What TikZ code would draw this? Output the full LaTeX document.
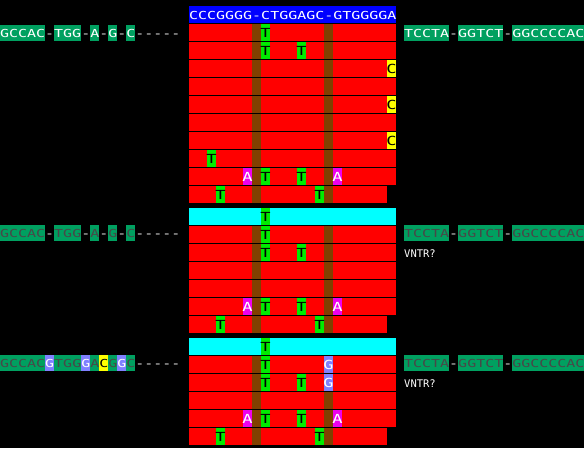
\documentclass[tikz,border=0pt]{standalone}
\usepackage{fontspec}
\newfontfamily\pix[FakeStretch=1.36]{DejaVu Sans Mono}
\newfontfamily\pixn{DejaVu Sans Mono}
\definecolor{bggreen}{RGB}{0,160,96}
\definecolor{tgreen}{RGB}{0,235,0}
\definecolor{brn}{RGB}{128,64,0}
\definecolor{mag}{RGB}{238,0,238}
\definecolor{gviolet}{RGB}{128,128,255}
\definecolor{dgray}{RGB}{72,72,72}
\definecolor{hblue}{RGB}{0,0,255}
\definecolor{cy}{RGB}{0,255,255}
\definecolor{yel}{RGB}{255,255,0}
\definecolor{rd}{RGB}{255,0,0}
\tikzset{
  seqtxt/.style={inner sep=0pt, anchor=base west, font=\pix\fontsize{11}{11}\selectfont},
  celltxt/.style={inner sep=0pt, anchor=base, font=\pix\fontsize{12.5}{12.5}\selectfont},
  notetxt/.style={inner sep=0pt, anchor=base west, text=white, font=\pixn\fontsize{10.5}{10.5}\selectfont},
}
% red read row: y, number of columns
\newcommand\redrow[2]{%
  \fill[rd] (189,#1) rectangle ++({9*#2},17);
  \fill[brn] (252,#1) rectangle ++(9,17);
  \fill[brn] (324,#1) rectangle ++(9,17);}
% base cell: col, y, fill, text colour, letter
\newcommand\base[5]{%
  \fill[#3] ({189+9*#1},#2) rectangle ++(9,17);
  \node[celltxt,text=#4] (b-#1-#2) at ({193.5+9*#1},{#2+13}) {#5};}
\newcommand\Tb[2]{\base{#1}{#2}{tgreen}{black}{T}}
\newcommand\Ab[2]{\base{#1}{#2}{mag}{white}{A}}
\newcommand\Cb[2]{\base{#1}{#2}{yel}{black}{C}}
\newcommand\Gb[2]{\base{#1}{#2}{gviolet}{white}{G}}
% green box behind sequence: x0, first col, last col, y
\newcommand\gbox[5][bggreen]{%
  \fill[#1] ({#2+9*#3},#5) rectangle ({#2+9*#4+9},{#5+16});}
\begin{document}
\begin{tikzpicture}[x=1pt,y=-1pt]
\useasboundingbox (0,0) rectangle (584,448);
\fill[black] (0,0) rectangle (584,448);

% ---------- top section ----------
\fill[hblue] (189,6) rectangle ++(207,17);
\node[seqtxt,text=white] (hdr) at (189,19) {CCCGGGG-CTGGAGC-GTGGGGA};

\redrow{24}{23}\Tb{8}{24}
\redrow{42}{23}\Tb{8}{42}\Tb{12}{42}
\redrow{60}{23}\Cb{22}{60}
\redrow{78}{23}
\redrow{96}{23}\Cb{22}{96}
\redrow{114}{23}
\redrow{132}{23}\Cb{22}{132}
\redrow{150}{23}\Tb{2}{150}
\redrow{168}{23}\Ab{6}{168}\Tb{8}{168}\Tb{12}{168}\Ab{16}{168}
\redrow{186}{22}\Tb{3}{186}\Tb{14}{186}

\gbox{0}{0}{4}{25}\gbox{0}{6}{8}{25}\gbox{0}{10}{10}{25}\gbox{0}{12}{12}{25}\gbox{0}{14}{14}{25}
\node[seqtxt,text=white] (left1) at (0,37) {GCCAC-TGG-A-G-C-----};
\gbox{404}{0}{4}{25}\gbox{404}{6}{10}{25}\gbox{404}{12}{19}{25}
\node[seqtxt,text=white] (right1) at (404,37) {TCCTA-GGTCT-GGCCCCAC};

% ---------- middle section ----------
\fill[cy] (189,208) rectangle ++(207,17);
\Tb{8}{208}
\redrow{226}{23}\Tb{8}{226}
\redrow{244}{23}\Tb{8}{244}\Tb{12}{244}
\redrow{262}{23}
\redrow{280}{23}
\redrow{298}{23}\Ab{6}{298}\Tb{8}{298}\Tb{12}{298}\Ab{16}{298}
\redrow{316}{22}\Tb{3}{316}\Tb{14}{316}

\gbox{0}{0}{4}{225}\gbox{0}{6}{8}{225}\gbox{0}{10}{10}{225}\gbox{0}{12}{12}{225}\gbox{0}{14}{14}{225}
\node[seqtxt,text=white] (left2) at (0,237) {{\color{dgray}GCCAC}-{\color{dgray}TGG}-{\color{dgray}A}-{\color{dgray}G}-{\color{dgray}C}-----};
\gbox{404}{0}{4}{225}\gbox{404}{6}{10}{225}\gbox{404}{12}{19}{225}
\node[seqtxt,text=white] (right2) at (404,237) {{\color{dgray}TCCTA}-{\color{dgray}GGTCT}-{\color{dgray}GGCCCCAC}};
\node[notetxt] (vntr2) at (404,257) {VNTR?};

% ---------- bottom section ----------
\fill[cy] (189,338) rectangle ++(207,17);
\Tb{8}{338}
\redrow{356}{23}\Tb{8}{356}\Gb{15}{356}
\redrow{374}{23}\Tb{8}{374}\Tb{12}{374}\Gb{15}{374}
\redrow{392}{23}
\redrow{410}{23}\Ab{6}{410}\Tb{8}{410}\Tb{12}{410}\Ab{16}{410}
\redrow{428}{22}\Tb{3}{428}\Tb{14}{428}

\gbox{0}{0}{14}{355}
\gbox[gviolet]{0}{5}{5}{355}\gbox[gviolet]{0}{9}{9}{355}\gbox[gviolet]{0}{13}{13}{355}
\gbox[yel]{0}{11}{11}{355}
\node[seqtxt,text=white] (left3) at (0,367) {{\color{dgray}GCCAC}G{\color{dgray}TGG}G{\color{dgray}A}{\color{black}C}{\color{dgray}G}G{\color{dgray}C}-----};
\gbox{404}{0}{4}{355}\gbox{404}{6}{10}{355}\gbox{404}{12}{19}{355}
\node[seqtxt,text=white] (right3) at (404,367) {{\color{dgray}TCCTA}-{\color{dgray}GGTCT}-{\color{dgray}GGCCCCAC}};
\node[notetxt] (vntr3) at (404,387) {VNTR?};
\end{tikzpicture}
\end{document}
